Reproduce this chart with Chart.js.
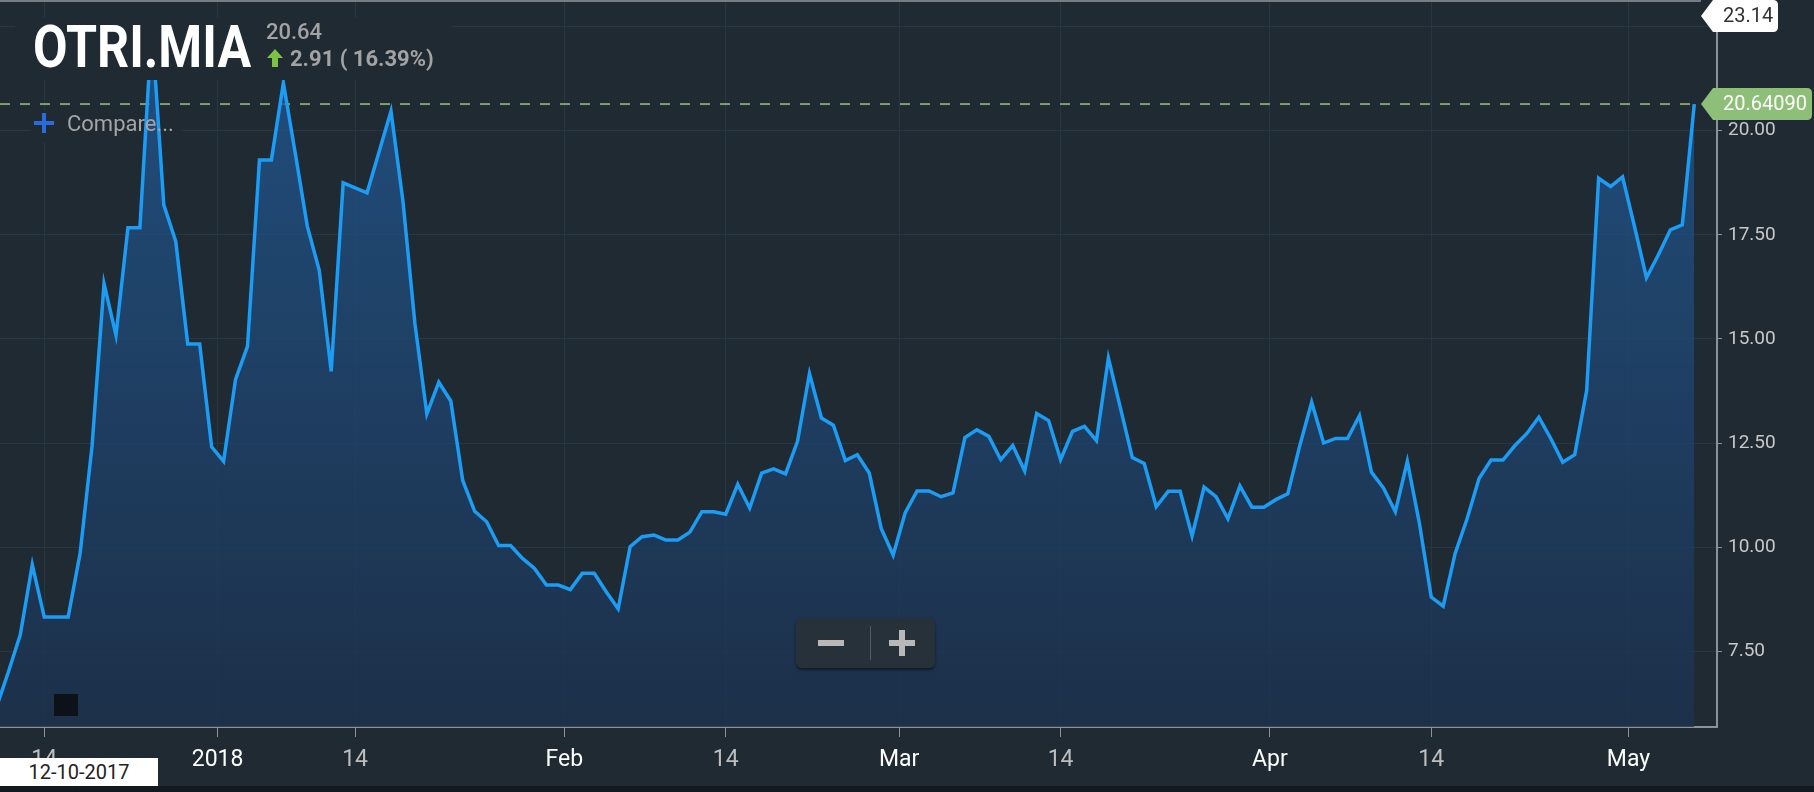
<!DOCTYPE html>
<html>
<head>
<meta charset="utf-8">
<script src="https://cdn.jsdelivr.net/npm/chart.js@4.4.1/dist/chart.umd.min.js"></script>
<style>
  body { margin: 0; background: #1f2a33; overflow: hidden; }
  #wrap { position: relative; width: 1814px; height: 792px; background: #1f2a33; font-family: Roboto, "Noto Sans", sans-serif; }
  #wrap canvas { position: absolute; left: 0; top: 0; }
  .ov { position: absolute; pointer-events: none; white-space: nowrap; }
</style>
</head>
<body>
<div id="wrap">
  <canvas id="chart" width="1814" height="792"></canvas>

  <div class="ov" style="left:0;top:0;width:1701px;height:2px;background:#767c81"></div>

  <div class="ov" style="left:15px;top:18px;width:437px;height:62px;background:#1f2a33"></div>
  <div class="ov" id="symbol" style="left:33px;top:17px;font-size:59px;line-height:59px;font-weight:700;color:#fff;transform:scaleX(0.85);transform-origin:left top">OTRI.MIA</div>
  <div class="ov" style="left:266px;top:21px;font-size:22px;line-height:22px;color:#a3a3a3;font-weight:500">20.64</div>
  <svg class="ov" style="left:266px;top:49px" width="18" height="19" viewBox="0 0 18 19">
    <polygon points="9,0 17,9 12,9 12,18 6,18 6,9 1,9" fill="#7cc243"/>
  </svg>
  <div class="ov" style="left:290px;top:48px;font-size:22px;line-height:22px;color:#a3a3a3;font-weight:700">2.91 ( 16.39%)</div>

  <div class="ov" style="left:34px;top:121px;width:20px;height:4px;background:#2a6bd8"></div>
  <div class="ov" style="left:42px;top:113px;width:4px;height:20px;background:#2a6bd8"></div>
  <div class="ov" style="left:67px;top:113px;font-size:22px;line-height:22px;color:#a5a5a5">Compare...</div>

  <div class="ov" style="left:54px;top:694px;width:24px;height:22px;background:#0c1217"></div>

  <div class="ov" style="left:796px;top:618px;width:139px;height:50px;background:#273139;border-radius:6px;box-shadow:0 2px 3px rgba(0,0,0,0.5)"></div>
  <div class="ov" style="left:818px;top:640px;width:26px;height:6px;background:#b8b8b8"></div>
  <div class="ov" style="left:870px;top:626px;width:1px;height:34px;background:#525c63"></div>
  <div class="ov" style="left:889px;top:640px;width:26px;height:6px;background:#b8b8b8"></div>
  <div class="ov" style="left:899px;top:630px;width:6px;height:26px;background:#b8b8b8"></div>

  <div class="ov" style="left:0;top:758px;width:158px;height:28px;background:#fff;color:#222;font-size:20px;line-height:28px;text-align:center">12-10-2017</div>
  <div class="ov" style="left:0;top:786px;width:1814px;height:6px;background:#131a1f"></div>
</div>

<script>
// daily closes, one per date
const dates = [
  '2017-12-10','2017-12-11','2017-12-12','2017-12-13','2017-12-14','2017-12-15','2017-12-16','2017-12-17',
  '2017-12-18','2017-12-19','2017-12-20','2017-12-21','2017-12-22','2017-12-23','2017-12-24','2017-12-27',
  '2017-12-28','2017-12-29','2017-12-30','2018-01-03','2018-01-04','2018-01-05','2018-01-06','2018-01-07',
  '2018-01-08','2018-01-09','2018-01-10','2018-01-11','2018-01-12','2018-01-13','2018-01-14','2018-01-15',
  '2018-01-16','2018-01-17','2018-01-18','2018-01-19','2018-01-20','2018-01-21','2018-01-22','2018-01-23',
  '2018-01-24','2018-01-25','2018-01-26','2018-01-27','2018-01-28','2018-01-29','2018-01-30','2018-01-31',
  '2018-02-01','2018-02-02','2018-02-03','2018-02-04','2018-02-05','2018-02-06','2018-02-07','2018-02-08',
  '2018-02-09','2018-02-10','2018-02-11','2018-02-12','2018-02-13','2018-02-14','2018-02-15','2018-02-16',
  '2018-02-17','2018-02-18','2018-02-19','2018-02-20','2018-02-21','2018-02-22','2018-02-23','2018-02-24',
  '2018-02-25','2018-02-26','2018-02-27','2018-02-28','2018-03-01','2018-03-02','2018-03-03','2018-03-04',
  '2018-03-05','2018-03-06','2018-03-07','2018-03-08','2018-03-09','2018-03-10','2018-03-11','2018-03-12',
  '2018-03-13','2018-03-14','2018-03-15','2018-03-16','2018-03-17','2018-03-18','2018-03-19','2018-03-20',
  '2018-03-21','2018-03-22','2018-03-23','2018-03-24','2018-03-25','2018-03-26','2018-03-27','2018-03-28',
  '2018-03-29','2018-03-30','2018-03-31','2018-04-01','2018-04-02','2018-04-03','2018-04-04','2018-04-05',
  '2018-04-06','2018-04-07','2018-04-08','2018-04-09','2018-04-10','2018-04-11','2018-04-12','2018-04-13',
  '2018-04-14','2018-04-15','2018-04-16','2018-04-17','2018-04-18','2018-04-19','2018-04-20','2018-04-21',
  '2018-04-22','2018-04-23','2018-04-24','2018-04-25','2018-04-26','2018-04-27','2018-04-28','2018-04-29',
  '2018-04-30','2018-05-01','2018-05-02','2018-05-03','2018-05-04','2018-05-05','2018-05-06'
];

const closes = [
  6.15, 7.00, 7.90, 9.58, 8.32, 8.32, 8.32, 9.85, 12.43, 16.33, 15.09, 17.67, 17.67, 22.50, 18.22, 17.34,
  14.88, 14.88, 12.41, 12.06, 14.03, 14.82, 19.30, 19.30, 21.15, 19.45, 17.71, 16.65, 14.22, 18.75, 18.63, 18.51,
  19.49, 20.47, 18.31, 15.37, 13.20, 13.96, 13.51, 11.60, 10.86, 10.61, 10.04, 10.04, 9.73, 9.49, 9.09, 9.09,
  8.98, 9.37, 9.37, 8.93, 8.52, 10.01, 10.25, 10.29, 10.17, 10.17, 10.36, 10.85, 10.85, 10.79, 11.51, 10.94,
  11.78, 11.88, 11.76, 12.54, 14.17, 13.10, 12.93, 12.08, 12.22, 11.78, 10.45, 9.81, 10.82, 11.35, 11.35, 11.21,
  11.30, 12.63, 12.82, 12.66, 12.10, 12.44, 11.83, 13.21, 13.04, 12.10, 12.78, 12.90, 12.56, 14.54, 13.35, 12.15,
  12.01, 10.97, 11.34, 11.34, 10.27, 11.44, 11.21, 10.68, 11.47, 10.96, 10.96, 11.14, 11.28, 12.43, 13.48, 12.50,
  12.61, 12.61, 13.16, 11.80, 11.42, 10.85, 12.06, 10.59, 8.80, 8.58, 9.85, 10.68, 11.65, 12.09, 12.09, 12.44,
  12.73, 13.12, 12.61, 12.04, 12.22, 13.76, 18.86, 18.66, 18.89, 17.70, 16.47, 17.02, 17.62, 17.74, 20.64
];

const tickDates  = ['2017-12-14','2018-01-01','2018-01-14','2018-02-01','2018-02-14','2018-03-01','2018-03-14','2018-04-01','2018-04-14','2018-05-01'];
const tickLabels = ['14','2018','14','Feb','14','Mar','14','Apr','14','May'];
const yTicks = [7.5, 10, 12.5, 15, 17.5, 20, 22.5];

const lastPrice = 20.64090;
const highPrice = 23.14;

// month boundaries fall between the last point of one month and the first of the next
const tickPos = tickDates.map(d => {
  const i = dates.findIndex(x => x >= d);
  return d.endsWith('-01') ? i - 0.5 : i;
});

const BG = '#1f2a33';
const GRID = '#283745';
const AXIS = '#8d9297';

function tag(c, tipX, y, w, fill, text, textColor) {
  const h = 32, r = 5;
  const x0 = tipX + 12, x1 = tipX + w;
  c.save();
  c.beginPath();
  c.moveTo(tipX, y);
  c.lineTo(x0, y - h / 2);
  c.lineTo(x1 - r, y - h / 2);
  c.quadraticCurveTo(x1, y - h / 2, x1, y - h / 2 + r);
  c.lineTo(x1, y + h / 2 - r);
  c.quadraticCurveTo(x1, y + h / 2, x1 - r, y + h / 2);
  c.lineTo(x0, y + h / 2);
  c.closePath();
  c.fillStyle = fill;
  c.fill();
  c.fillStyle = textColor;
  c.font = '20px Roboto';
  c.textBaseline = 'middle';
  c.textAlign = 'left';
  c.fillText(text, tipX + 22, y + 1);
  c.restore();
}

const overlays = {
  id: 'overlays',
  beforeDatasetsDraw(chart) {
    const c = chart.ctx;
    const xs = chart.scales.x, ys = chart.scales.y;
    // backing box behind "Compare..."
    c.save();
    c.fillStyle = BG;
    c.fillRect(30, 110, 152, 32);
    // last price dashed line
    const y = ys.getPixelForValue(lastPrice);
    c.strokeStyle = '#7f9f6c';
    c.lineWidth = 2;
    c.setLineDash([10, 10]);
    c.beginPath();
    c.moveTo(chart.chartArea.left, y);
    c.lineTo(xs.getPixelForValue(closes.length - 1), y);
    c.stroke();
    c.restore();
  },
  afterDraw(chart) {
    const c = chart.ctx;
    const ys = chart.scales.y;
    const tipX = chart.chartArea.right - 16;
    tag(c, tipX, Math.max(ys.getPixelForValue(highPrice), 16), 77, '#ffffff', highPrice.toFixed(2), '#333333');
    tag(c, tipX, ys.getPixelForValue(lastPrice), 111, '#8dbf79', lastPrice.toFixed(5), '#ffffff');
  }
};

// the plot runs edge to edge, so drop the label padding Chart.js reserves
function noPad(s) {
  s.paddingTop = 0; s.paddingBottom = 0; s.paddingLeft = 0; s.paddingRight = 0;
}

const ctx = document.getElementById('chart').getContext('2d');
const grad = ctx.createLinearGradient(0, 0, 0, 727);
grad.addColorStop(0, 'rgba(34,90,150,0.78)');
grad.addColorStop(1, 'rgba(28,50,78,0.8)');

new Chart(ctx, {
  type: 'line',
  data: {
    datasets: [{
      data: closes.map((v, i) => ({ x: i, y: v })),
      borderColor: '#1d9cf3',
      borderWidth: 3.5,
      borderJoinStyle: 'miter',
      backgroundColor: grad,
      fill: 'start',
      tension: 0,
      pointRadius: 0
    }]
  },
  options: {
    responsive: false,
    animation: false,
    devicePixelRatio: 1,
    layout: { padding: 0 },
    plugins: { legend: { display: false }, tooltip: { enabled: false } },
    scales: {
      x: {
        type: 'linear',
        min: 0.3,
        max: 143.9,
        afterBuildTicks: s => { s.ticks = tickPos.map(v => ({ value: v })); },
        afterFit: s => { s.height = 65; noPad(s); },
        ticks: {
          autoSkip: false,
          maxRotation: 0,
          padding: 9,
          font: { family: 'Roboto', size: 23 },
          color: c => tickLabels[c.index] === '14' ? '#bdbdbd' : '#ffffff',
          callback: (v, i) => tickLabels[i]
        },
        grid: { color: GRID, tickColor: AXIS, tickLength: 10 },
        border: { color: AXIS, width: 2 }
      },
      y: {
        position: 'right',
        min: 5.68,
        max: 23.14,
        afterBuildTicks: s => { s.ticks = yTicks.map(v => ({ value: v })); },
        afterFit: s => { s.width = 97; noPad(s); },
        ticks: {
          padding: 6,
          font: { family: 'Roboto', size: 19 },
          color: '#c8c8c8',
          callback: v => v.toFixed(2)
        },
        grid: { color: GRID, tickColor: AXIS, tickLength: 5 },
        border: { color: AXIS, width: 2 }
      }
    }
  },
  plugins: [overlays]
});
</script>
</body>
</html>
